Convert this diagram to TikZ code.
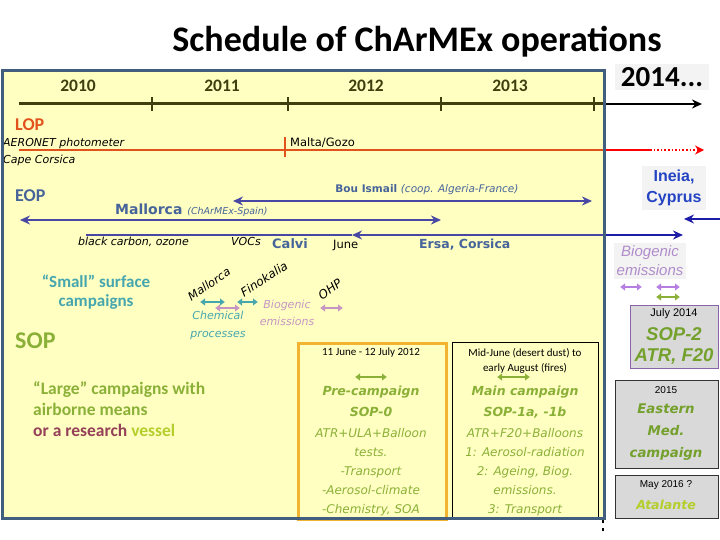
\documentclass[tikz,border=0pt]{standalone}
\usepackage{fontspec}
\setmainfont{Carlito}
\newfontfamily\vfont{DejaVu Sans}
\newfontfamily\afont{Liberation Sans}
\usetikzlibrary{arrows.meta}
\definecolor{paper}{HTML}{FFFFC2}
\definecolor{frame}{HTML}{425E7E}
\definecolor{tline}{HTML}{3E3E0E}
\definecolor{lopred}{HTML}{E2521C}
\definecolor{eopbar}{HTML}{4848A4}
\definecolor{eoptxt}{HTML}{46649A}
\definecolor{navyblue}{HTML}{1C1CA6}
\definecolor{ineia}{HTML}{2444C4}
\definecolor{tealtxt}{HTML}{46A6AE}
\definecolor{pinkish}{HTML}{C795C2}
\definecolor{lilac}{HTML}{B77EE2}
\definecolor{lilactxt}{HTML}{B08CCB}
\definecolor{sopgreen}{HTML}{8BB038}
\definecolor{darkgreen}{HTML}{74A02C}
\definecolor{maroontxt}{HTML}{944058}
\definecolor{ygreen}{HTML}{B4CE2C}
\definecolor{goldbox}{HTML}{F2B430}
\definecolor{greybox}{HTML}{D9D9D9}
\definecolor{greybg}{HTML}{F3F3F3}
\definecolor{purpframe}{HTML}{8A64A8}

\begin{document}
\begin{tikzpicture}[x=1pt,y=-1pt,>={Stealth[length=10pt,width=9pt]},
  yr/.style={font=\bfseries\fontsize{17.5}{18}\selectfont,text=tline},
  head/.style={anchor=mid west,inner sep=0,font=\bfseries\fontsize{18}{18}\selectfont},
  vit/.style={inner sep=0,font=\vfont\itshape\fontsize{11}{13}\selectfont},
  bar/.style={line width=2.6pt,draw=eopbar},
  dbl/.style={line width=2.6pt,{Latex[length=5pt,width=8pt]}-{Latex[length=5pt,width=8pt]}},
  gbox/.style={fill=greybox,line width=1pt,anchor=north west,inner sep=0}]
\useasboundingbox (0,0) rectangle (720,540);
\node[font=\bfseries\fontsize{36}{37}\selectfont] (title) at (417,42) {Schedule of ChArMEx operations};
\node[fill=paper,minimum width=602pt,minimum height=447pt,anchor=north west,inner sep=0] (period) at (2,71) {};

\coordinate (t0) at (19,104);
\coordinate (t1) at (604,104);
\coordinate (t2) at (702,104);
\draw[tline,line width=3pt] (t0) -- (t1);
\foreach \x in {152,288,441,594}
  \draw[tline,line width=1.2pt] (\x,97) -- (\x,111);
\foreach \x/\yy in {78/2010,222/2011,366/2012,510/2013}
  \node[yr] (yr\yy) at (\x,86) {\yy};
\draw[line width=2.6pt,->] (t1) -- (t2);
\node[fill=greybg,font=\bfseries\fontsize{29}{30}\selectfont,inner xsep=6pt] (future) at (662,77) {2014...};

\node[head,text=lopred] (lop) at (15,128) {LOP};
\node[vit,anchor=mid west] (aeronet) at (3,144) {AERONET photometer};
\node[vit,anchor=mid west] (cape) at (3,161) {Cape Corsica};
\coordinate (l0) at (19,150);
\coordinate (l1) at (604,150);
\coordinate (l2) at (650,150);
\coordinate (l3) at (704,150);
\coordinate (m0) at (285,137);
\coordinate (m1) at (285,157);
\draw[lopred,line width=1.6pt] (l0) -- (l1);
\draw[red,line width=1.6pt] (l1) -- (l2);
\draw[red,line width=1.6pt,dotted,-{Stealth[length=9pt,width=9pt]}] (l2) -- (l3);
\draw[lopred,line width=1.6pt] (m0) -- (m1);
\node[inner sep=0,anchor=mid west,font=\vfont\fontsize{11.5}{13}\selectfont] (malta) at (290,144) {Malta/Gozo};

\node[head,text=eoptxt] (eop) at (15,199) {EOP};
\coordinate (b0) at (233,201);
\coordinate (b1) at (592,201);
\draw[bar,<->] (b0) -- (b1);
\node[inner sep=0,text=eoptxt,font=\vfont\fontsize{10.5}{12}\selectfont] (bou) at (427,190) {\bfseries Bou Ismail \mdseries\itshape(coop. Algeria-France)};
\coordinate (c0) at (20,220);
\coordinate (c1) at (441,220);
\draw[bar,<->] (c0) -- (c1);
\node[inner sep=0,anchor=mid west,text=eoptxt,font=\vfont\bfseries\fontsize{14}{15}\selectfont] (mallorca) at (115,212) {Mallorca {\mdseries\itshape\fontsize{9.5}{10}\selectfont(ChArMEx-Spain)}};
\coordinate (e0) at (86,235);
\coordinate (e1) at (352,235);
\coordinate (e2) at (604,235);
\coordinate (e3) at (683,235);
\draw[bar] (e0) -- (e1);
\draw[bar,<-] (e1) -- (e2);
\draw[bar,draw=navyblue,->] (e2) -- (e3);
\node[vit,anchor=mid west] (bc) at (78,243) {black carbon, ozone};
\node[vit,anchor=mid west] (vocs) at (231,243) {VOCs};
\node[inner sep=0,anchor=mid west,text=eoptxt,font=\vfont\bfseries\fontsize{13}{14}\selectfont] (calvi) at (272,246) {Calvi};
\node[inner sep=0,anchor=mid west,font=\vfont\fontsize{11.5}{13}\selectfont] (june) at (333,246) {June};
\node[inner sep=0,anchor=mid west,text=eoptxt,font=\vfont\bfseries\fontsize{12.5}{14}\selectfont] (ersa) at (419,246) {Ersa, Corsica};

\node[fill=greybg,align=center,text=ineia,font=\afont\bfseries\fontsize{16}{21}\selectfont,inner sep=4pt] (ineia) at (674,188) {Ineia,\\Cyprus};
\coordinate (i0) at (684,219);
\coordinate (i1) at (720,219);
\draw[bar,draw=navyblue,<-] (i0) -- (i1);

\node[align=center,text=tealtxt,font=\bfseries\fontsize{17}{19.5}\selectfont] (small) at (96,292) {“Small” surface\\campaigns};
\node[vit,rotate=34,font=\vfont\itshape\fontsize{11.5}{13}\selectfont] (smallmal) at (209,284) {Mallorca};
\node[vit,rotate=33,font=\vfont\itshape\fontsize{12}{13}\selectfont] (fino) at (264,279) {Finokalia};
\node[vit,rotate=36,font=\vfont\itshape\fontsize{12}{13}\selectfont] (ohp) at (330,289) {OHP};
\foreach \n/\xa/\xb/\yy/\cc in {ma/200/225/302/tealtxt,fi/237/258/302/tealtxt,bi/215/240/308/pinkish,oh/320/343/308/pinkish,
    sa/620/642/287/lilac,sb/656/680/287/lilac,sc/656/680/297/sopgreen,pc/355/387/377/sopgreen,mc/497/530/377/sopgreen} {
  \coordinate (\n0) at (\xa,\yy);
  \coordinate (\n1) at (\xb,\yy);
  \draw[dbl,\cc] (\n0) -- (\n1);
}
\node[align=center,text=tealtxt,font=\vfont\itshape\fontsize{11}{18}\selectfont,inner sep=0] (chem) at (218,325) {Chemical\\processes};
\node[align=center,text=pinkish,font=\vfont\itshape\fontsize{11}{17}\selectfont,inner sep=0] (biog) at (287,313) {Biogenic\\emissions};

\node[head,text=sopgreen,font=\bfseries\fontsize{24}{24}\selectfont] (sop) at (15,346) {SOP};
\node[anchor=north west,inner sep=0,align=left,text=sopgreen,font=\bfseries\fontsize{17.5}{21}\selectfont] (large) at (33,381) {“Large” campaigns with\\airborne means\\\textcolor{maroontxt}{or a research} \textcolor{ygreen}{vessel}};

\node[draw=goldbox,line width=3pt,minimum width=148pt,minimum height=176pt,anchor=north west,inner sep=0] (sop0) at (297,342) {};
\node[draw=black,line width=0.8pt,minimum width=146pt,minimum height=176pt,anchor=north west,inner sep=0] (sop1) at (452,342) {};
\node[font=\fontsize{11}{13}\selectfont] (d0) at (371,353) {11 June - 12 July 2012};
\node[align=center,font=\fontsize{11}{15}\selectfont] (d1) at (525,361) {Mid-June (desert dust) to\\early August (fires)};
\node[anchor=north,inner sep=0,align=center,text=sopgreen,font=\vfont\bfseries\itshape\fontsize{12.5}{21}\selectfont] (pre) at (371,386) {Pre-campaign\\SOP-0};
\node[anchor=north,inner sep=0,align=center,text=sopgreen,font=\vfont\bfseries\itshape\fontsize{12.5}{21}\selectfont] (main) at (525,386) {Main campaign\\SOP-1a, -1b};
\node[anchor=north,inner sep=0,align=center,text=sopgreen,font=\vfont\itshape\fontsize{12}{19}\selectfont] (pretxt) at (371,428) {ATR+ULA+Balloon\\tests.\\-Transport\\-Aerosol-climate\\-Chemistry, SOA};
\node[anchor=north,inner sep=0,align=center,text=sopgreen,font=\vfont\itshape\fontsize{12}{19}\selectfont] (maintxt) at (525,428) {ATR+F20+Balloons\\1: Aerosol-radiation\\2: Ageing, Biog.\\emissions.\\3: Transport};

\node[fill=greybg,align=center,text=lilactxt,font=\afont\itshape\fontsize{15}{19}\selectfont,inner sep=3pt] (biog2) at (650,261) {Biogenic\\emissions};
\node[gbox,draw=purpframe,minimum width=88pt,minimum height=63pt] (sop2) at (630,305) {};
\node[font=\afont\fontsize{11}{12}\selectfont] (jul) at (674,314) {July 2014};
\node[align=center,inner sep=0,text=darkgreen,font=\afont\bfseries\itshape\fontsize{18.5}{21}\selectfont] (sop2txt) at (674,346) {SOP-2\\ATR, F20};
\node[gbox,draw=black!80,minimum width=103pt,minimum height=88pt] (east) at (615,380) {};
\node[font=\afont\fontsize{10}{11}\selectfont] (y15) at (666,390) {2015};
\node[align=center,inner sep=0,text=darkgreen,font=\vfont\bfseries\itshape\fontsize{13.3}{22}\selectfont] (easttxt) at (666,432) {Eastern\\Med.\\campaign};
\node[gbox,draw=black!80,minimum width=103pt,minimum height=43pt] (atal) at (615,475) {};
\node[font=\afont\fontsize{10}{11}\selectfont] (may) at (666,485) {May 2016 ?};
\node[text=ygreen,font=\vfont\bfseries\itshape\fontsize{12.5}{13}\selectfont] (atalante) at (666,505) {Atalante};

\draw[frame,line width=3pt] (period.north west) rectangle (period.south east);
\coordinate (dd0) at (603,520);
\coordinate (dd1) at (603,533);
\draw[line width=2.5pt,dash pattern=on 3pt off 5pt] (dd0) -- (dd1);
\end{tikzpicture}
\end{document}
